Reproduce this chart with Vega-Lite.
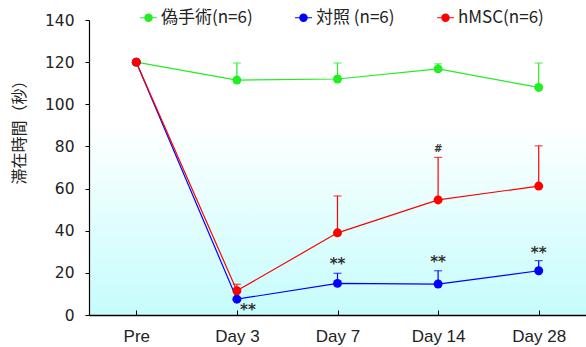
{
  "$schema": "https://vega.github.io/schema/vega-lite/v6.json",
  "width": 497,
  "height": 295,
  "autosize": {"type": "none"},
  "padding": {"left": 89, "top": 20, "right": 0, "bottom": 32},
  "background": "white",
  "config": {
    "view": {
      "stroke": null,
      "fill": {"gradient": "linear", "x1": 0, "y1": 0, "x2": 0, "y2": 1,
        "stops": [{"offset": 0, "color": "#ffffff"}, {"offset": 0.35, "color": "#ffffff"}, {"offset": 1, "color": "#c6fcfc"}]}
    },
    "axis": {"labelFont": "Liberation Sans", "labelFontSize": 17, "labelColor": "#222", "grid": false, "domainColor": "#000", "tickColor": "#000"},
    "legend": {
      "symbolType": "M-1.2,-0.08L1.2,-0.08L1.2,0.08L-1.2,0.08Z M0.6,0A0.6,0.6,0,1,1,-0.6,0A0.6,0.6,0,1,1,0.6,0Z",
      "symbolSize": 200,
      "symbolOpacity": 1,
      "labelFont": "Noto Sans CJK JP",
      "labelFontSize": 17,
      "labelColor": "#222",
      "symbolStrokeWidth": 0,
      "padding": 0
    }
  },
  "datasets": {
    "main": [
      {"group": "偽手術(n=6)", "time": "Pre", "value": 120, "upper": 120},
      {"group": "偽手術(n=6)", "time": "Day 3", "value": 111.5, "upper": 119.6},
      {"group": "偽手術(n=6)", "time": "Day 7", "value": 112, "upper": 119.6},
      {"group": "偽手術(n=6)", "time": "Day 14", "value": 116.8, "upper": 119.2},
      {"group": "偽手術(n=6)", "time": "Day 28", "value": 108, "upper": 119.6},
      {"group": "対照 (n=6)", "time": "Pre", "value": 120, "upper": 120},
      {"group": "対照 (n=6)", "time": "Day 3", "value": 7.5, "upper": 7.5},
      {"group": "対照 (n=6)", "time": "Day 7", "value": 15, "upper": 19.8},
      {"group": "対照 (n=6)", "time": "Day 14", "value": 14.7, "upper": 21},
      {"group": "対照 (n=6)", "time": "Day 28", "value": 21, "upper": 25.8},
      {"group": "hMSC(n=6)", "time": "Pre", "value": 120, "upper": 120},
      {"group": "hMSC(n=6)", "time": "Day 3", "value": 11.5, "upper": 14.6},
      {"group": "hMSC(n=6)", "time": "Day 7", "value": 39, "upper": 56.5},
      {"group": "hMSC(n=6)", "time": "Day 14", "value": 54.6, "upper": 74.8},
      {"group": "hMSC(n=6)", "time": "Day 28", "value": 61.2, "upper": 80.3}
    ],
    "notes": [
      {"time": "Day 3", "pos": 2.5, "label": "**", "shift": 11, "size": 15},
      {"time": "Day 7", "pos": 24, "label": "**", "shift": 0, "size": 15},
      {"time": "Day 14", "pos": 25, "label": "**", "shift": 0, "size": 15},
      {"time": "Day 28", "pos": 29.5, "label": "**", "shift": 0, "size": 15},
      {"time": "Day 14", "pos": 79, "label": "#", "shift": 0, "size": 10}
    ]
  },
  "encoding": {
    "x": {"field": "time", "type": "nominal",
      "sort": ["Pre", "Day 3", "Day 7", "Day 14", "Day 28"],
      "scale": {"type": "point", "padding": 0.47},
      "axis": {"title": null, "labelAngle": 0, "tickSize": -5, "labelPadding": 18, "domainWidth": 1.5}},
    "y": {"type": "quantitative"}
  },
  "layer": [
    {
      "data": {"name": "main"},
      "mark": {"type": "rule", "strokeWidth": 1.2},
      "encoding": {
        "y": {"field": "value", "type": "quantitative", "scale": {"domain": [0, 140]},
          "axis": {"values": [0, 20, 40, 60, 80, 100, 120, 140], "labelFont": "DejaVu Sans", "labelFontSize": 15.5, "title": "滞在時間（秒）", "titleFont": "Noto Sans CJK JP", "titleFontSize": 16, "titleFontWeight": "normal", "titleColor": "#222", "titleX": -62, "titleY": 108, "tickSize": 4, "labelPadding": 11, "domainWidth": 1.2}},
        "y2": {"field": "upper"},
        "color": {"field": "group", "type": "nominal", "scale": {"domain": ["偽手術(n=6)", "対照 (n=6)", "hMSC(n=6)"], "range": ["#22ee22", "#0000ff", "#ff0000"]},
          "legend": {"title": null, "orient": "none", "direction": "horizontal", "legendX": 51, "legendY": -11, "columnPadding": 42}}
      }
    },
    {
      "data": {"name": "main"},
      "mark": {"type": "tick", "size": 8, "thickness": 1.2},
      "encoding": {
        "y": {"field": "upper", "type": "quantitative"},
        "color": {"field": "group", "type": "nominal"}
      }
    },
    {
      "data": {"name": "main"},
      "mark": {"type": "line", "strokeWidth": 1.2},
      "encoding": {
        "y": {"field": "value", "type": "quantitative"},
        "color": {"field": "group", "type": "nominal"}
      }
    },
    {
      "data": {"name": "main"},
      "mark": {"type": "point", "filled": true, "size": 80, "opacity": 1},
      "encoding": {
        "y": {"field": "value", "type": "quantitative"},
        "color": {"field": "group", "type": "nominal"}
      }
    },
    {
      "data": {"name": "notes"},
      "mark": {"type": "text", "font": "DejaVu Sans", "fontWeight": "bold", "color": "#333", "baseline": "middle"},
      "encoding": {
        "y": {"field": "pos", "type": "quantitative"},
        "text": {"field": "label"},
        "size": {"field": "size", "type": "quantitative", "scale": null},
        "xOffset": {"field": "shift", "type": "quantitative", "scale": null}
      }
    }
  ]
}
